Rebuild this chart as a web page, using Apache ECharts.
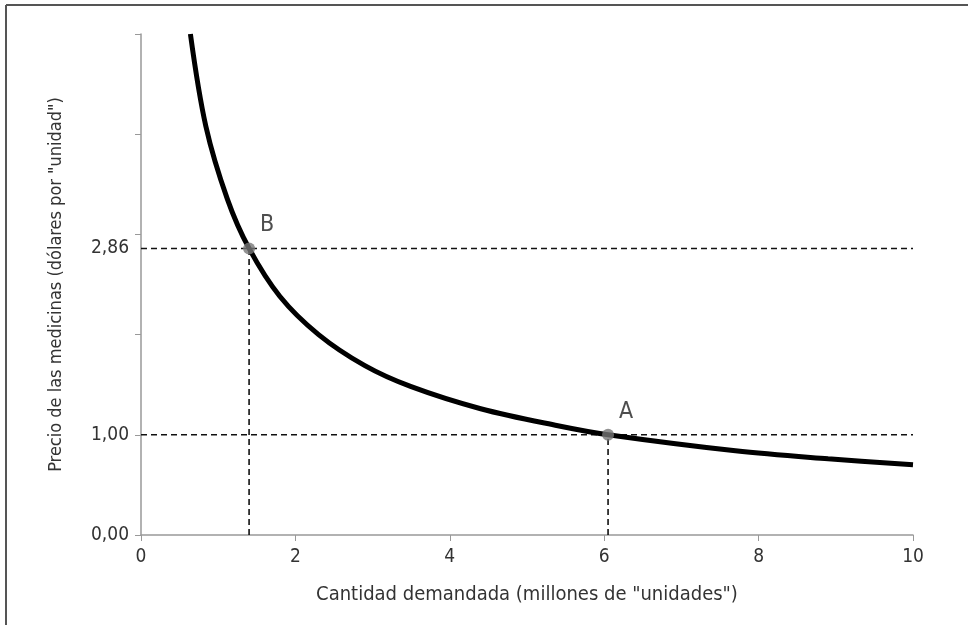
<!DOCTYPE html>
<html>
<head>
<meta charset="utf-8">
<script src="https://cdn.jsdelivr.net/npm/echarts@6/dist/echarts.min.js"></script>
<style>
  html, body { margin: 0; padding: 0; background: #fff; }
  #chart { width: 968px; height: 625px; }
</style>
</head>
<body>
<div id="chart"></div>
<script>
  // demand curve
  const cantidad = [0.64, 0.84, 1.12, 1.40, 1.80, 2.30, 2.90, 3.50, 4.40, 5.40, 6.05, 7.70, 8.90, 10]
  const precio = [5.0, 4.08, 3.35, 2.86, 2.38, 2.0, 1.69, 1.48, 1.26, 1.09, 1.00, 0.84, 0.76, 0.70]

  // marked points
  const puntoNombres = ["B", "A"]
  const puntoX = [1.40, 6.05]
  const puntoY = [2.86, 1.00]

  const yTicks = [0, 1, 2, 3, 4, 5]
  const yLabels = [0, 1.00, 2.86]

  const font = '"DejaVu Sans Condensed", "Open Sans", sans-serif'
  const fmt = v => v.toFixed(2).replace(".", ",")

  const curve = cantidad.map((q, i) => [q, precio[i]])

  // dashed guides to each point
  const guides = []
  puntoX.forEach((x, i) => {
    guides.push({ data: [[0, puntoY[i]], [10, puntoY[i]]] })
    guides.push({ data: [[x, 0], [x, puntoY[i]]] })
  })

  const chart = echarts.init(document.getElementById("chart"))

  chart.setOption({
    backgroundColor: "#ffffff",
    animation: false,
    textStyle: { fontFamily: font },
    graphic: [
      { type: "line", shape: { x1: 6, y1: 5, x2: 968, y2: 5 }, style: { stroke: "#555", lineWidth: 2 } },
      { type: "line", shape: { x1: 6, y1: 5, x2: 6, y2: 625 }, style: { stroke: "#555", lineWidth: 2 } }
    ],
    grid: { left: 141, right: 55, top: 34, bottom: 90 },
    xAxis: {
      type: "value",
      min: 0,
      max: 10,
      interval: 2,
      name: 'Cantidad demandada (millones de "unidades")',
      nameLocation: "middle",
      nameGap: 50,
      nameTextStyle: { color: "#333", fontSize: 20, fontFamily: font },
      axisLine: { lineStyle: { color: "#999", width: 1.5 } },
      axisTick: { show: true, length: 6, lineStyle: { color: "#999" } },
      axisLabel: { color: "#333", fontSize: 19, margin: 13, fontFamily: font },
      splitLine: { show: false }
    },
    yAxis: {
      type: "value",
      min: 0,
      max: 5,
      interval: 1,
      name: 'Precio de las medicinas (dólares por "unidad")',
      nameLocation: "middle",
      nameGap: 76,
      nameTextStyle: { color: "#333", fontSize: 18, fontFamily: font },
      axisLine: { show: true, lineStyle: { color: "#999", width: 1.5 } },
      axisTick: { show: true, length: 6, customValues: yTicks, lineStyle: { color: "#999" } },
      axisLabel: {
        color: "#333",
        fontSize: 19,
        margin: 12,
        fontFamily: font,
        customValues: yLabels,
        formatter: v => fmt(v)
      },
      splitLine: { show: false }
    },
    series: [
      ...guides.map(g => ({
        type: "line",
        data: g.data,
        symbol: "none",
        silent: true,
        lineStyle: { color: "#111", width: 1.6, type: [6, 4] },
        z: 1
      })),
      {
        type: "line",
        data: curve,
        smooth: 0.35,
        symbol: "none",
        lineStyle: { color: "#000", width: 5 },
        z: 3
      },
      {
        type: "scatter",
        data: puntoX.map((x, i) => ({ value: [x, puntoY[i]], name: puntoNombres[i] })),
        symbolSize: 12,
        itemStyle: { color: "#777" },
        label: {
          show: true,
          formatter: p => p.name,
          position: "right",
          offset: [0, -23],
          color: "#222",
          fontSize: 23,
          fontFamily: font
        },
        z: 5
      }
    ]
  })
</script>
</body>
</html>
